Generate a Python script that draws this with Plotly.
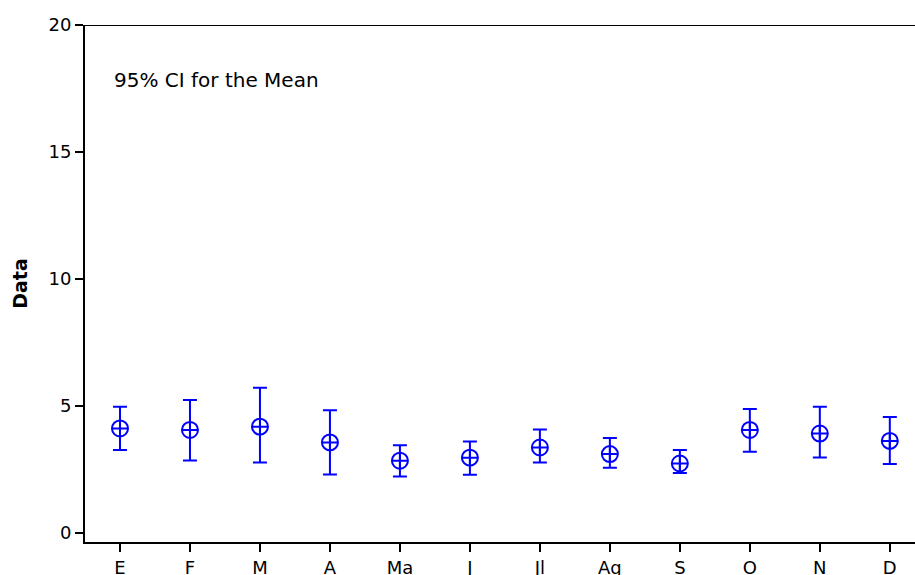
import plotly.graph_objects as go

# Monthly means with 95% confidence interval bounds
months = ["E", "F", "M", "A", "Ma", "J", "Jl", "Ag", "S", "O", "N", "D"]
means = [4.12, 4.06, 4.19, 3.57, 2.85, 2.97, 3.37, 3.11, 2.74, 4.06, 3.92, 3.63]
upper = [4.97, 5.24, 5.72, 4.84, 3.46, 3.61, 4.08, 3.74, 3.27, 4.89, 4.97, 4.57]
lower = [3.27, 2.86, 2.78, 2.31, 2.23, 2.30, 2.78, 2.57, 2.37, 3.20, 2.98, 2.72]
y_ticks = [0, 5, 10, 15, 20]

err_plus = [u - m for u, m in zip(upper, means)]
err_minus = [m - l for m, l in zip(means, lower)]

blue = "rgb(0,0,255)"
font_family = "DejaVu Sans, Verdana, sans-serif"

fig = go.Figure(
    go.Scatter(
        x=list(range(len(months))),
        y=means,
        mode="markers",
        marker=dict(symbol="circle-cross-open", size=16, color=blue,
                    line=dict(width=2, color=blue)),
        error_y=dict(type="data", symmetric=False, array=err_plus,
                     arrayminus=err_minus, color=blue, thickness=2, width=7),
        showlegend=False,
        cliponaxis=False,
    )
)

fig.update_layout(
    width=915,
    height=575,
    margin=dict(l=85, r=0, t=25, b=33),
    paper_bgcolor="white",
    plot_bgcolor="white",
    font=dict(family=font_family, size=18, color="black"),
    xaxis=dict(
        range=[-0.5, 11.36],
        tickmode="array",
        tickvals=list(range(len(months))),
        ticktext=months,
        showgrid=False,
        zeroline=False,
        showline=True,
        linecolor="black",
        linewidth=2,
        ticks="outside",
        ticklen=8,
        tickwidth=2,
        tickcolor="black",
        tickfont=dict(size=18),
        automargin=False,
    ),
    yaxis=dict(
        range=[-0.35, 20],
        tickmode="array",
        tickvals=y_ticks,
        ticktext=[str(v) for v in y_ticks],
        showgrid=False,
        zeroline=False,
        showline=True,
        linecolor="black",
        linewidth=2,
        ticks="outside",
        ticklen=8,
        tickwidth=2,
        tickcolor="black",
        tickfont=dict(size=18),
        title=dict(text="<b>Data</b>", font=dict(size=19), standoff=16),
        automargin=False,
    ),
    shapes=[
        dict(type="line", xref="paper", yref="y", x0=0, x1=1, y0=20, y1=20,
             line=dict(color="black", width=2)),
    ],
    annotations=[
        dict(text="95% CI for the Mean", xref="paper", yref="paper",
             x=0.032, y=0.894, xanchor="left", yanchor="middle",
             showarrow=False, font=dict(size=20)),
    ],
)

fig.write_html("out.html")
